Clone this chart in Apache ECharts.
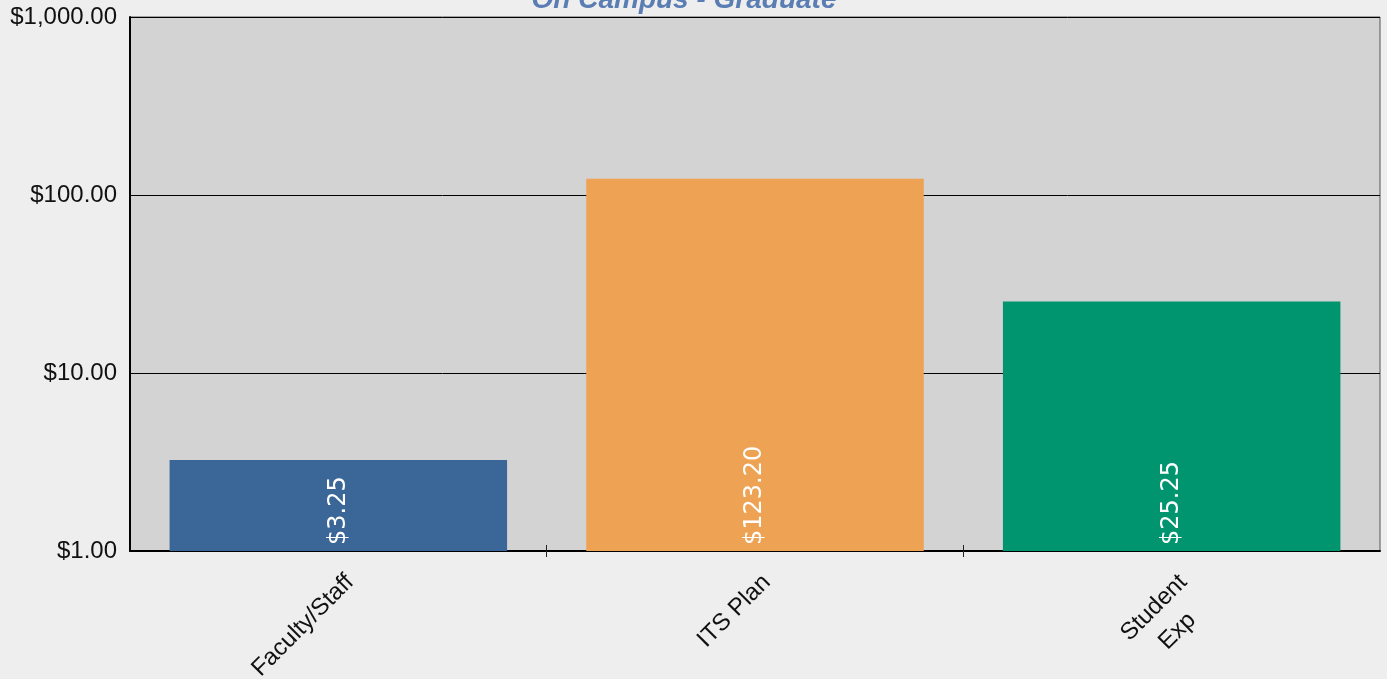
<!DOCTYPE html>
<html>
<head>
<meta charset="utf-8">
<script src="https://cdn.jsdelivr.net/npm/echarts@6/dist/echarts.min.js"></script>
<style>
    html, body { margin: 0; padding: 0; background: #eeeeee; }
    #chart { width: 1387px; height: 679px; }
</style>
</head>
<body>
<div id="chart"></div>
<script>
    var titleText = 'On Campus - Graduate';
    var categories = ['Faculty/Staff', 'ITS Plan', 'Student\nExp'];
    var values = [3.25, 123.20, 25.25];
    var barColors = ['#3b6698', '#eea253', '#00956f'];

    function money(v) {
        return '$' + Number(v).toLocaleString('en-US', {minimumFractionDigits: 2, maximumFractionDigits: 2});
    }

    var chart = echarts.init(document.getElementById('chart'));
    var font = 'Liberation Sans, Arial, sans-serif';
    var plotGrid = {left: 130, right: 7, top: 17, bottom: 128, containLabel: false, outerBoundsMode: 'none'};

    // ticks between the categories, drawn across the axis line (half inside, half outside)
    function tickAxis(gridIndex, inside) {
        return {
            type: 'value',
            gridIndex: gridIndex,
            min: 0,
            max: categories.length,
            interval: 1,
            axisLine: {show: false},
            splitLine: {show: false},
            axisLabel: {show: false},
            axisTick: {
                show: true,
                inside: inside,
                length: 6,
                customValues: categories.slice(1).map(function (c, i) { return i + 1; }),
                lineStyle: {color: '#222'}
            }
        };
    }

    var option = {
        animation: false,
        backgroundColor: '#eeeeee',
        title: {
            text: titleText,
            left: 679,
            textAlign: 'center',
            top: -19,
            textStyle: {fontSize: 28, fontWeight: 'bold', fontStyle: 'italic', color: '#5a7db3', fontFamily: font}
        },
        grid: [
            Object.assign({show: true, backgroundColor: '#d3d3d3', borderColor: '#555', borderWidth: 1}, plotGrid),
            Object.assign({}, plotGrid),
            Object.assign({}, plotGrid)
        ],
        xAxis: [
            {
                type: 'category',
                data: categories,
                gridIndex: 0,
                axisLine: {lineStyle: {color: '#000', width: 2}},
                axisTick: {show: false},
                axisLabel: {
                    rotate: 45,
                    align: 'right',
                    verticalAlign: 'top',
                    margin: 6,
                    padding: [7, 7, 0, 0],
                    color: '#111',
                    fontSize: 24,
                    fontFamily: font,
                    formatter: function (v) {
                        return v.split('\n').map(function (s) { return '{c|' + s + '}'; }).join('\n');
                    },
                    rich: {c: {align: 'center', fontSize: 24, lineHeight: 33, fontFamily: font, color: '#111'}}
                }
            },
            tickAxis(1, false),
            tickAxis(2, true)
        ],
        yAxis: [
            {
                type: 'log',
                logBase: 10,
                min: 1,
                max: 1000,
                gridIndex: 0,
                axisLine: {show: true, lineStyle: {color: '#000', width: 2}},
                axisTick: {show: false},
                splitLine: {lineStyle: {color: '#000', width: 1}},
                axisLabel: {margin: 13, color: '#111', fontSize: 24, fontFamily: font, formatter: money}
            },
            {type: 'value', gridIndex: 1, show: false},
            {type: 'value', gridIndex: 2, show: false}
        ],
        series: [{
            type: 'bar',
            xAxisIndex: 0,
            yAxisIndex: 0,
            barCategoryGap: '19%',
            data: values.map(function (v, i) {
                return {value: v, itemStyle: {color: barColors[i]}};
            }),
            label: {
                show: true,
                position: 'insideBottom',
                rotate: 90,
                align: 'left',
                verticalAlign: 'middle',
                distance: 6,
                color: '#fff',
                fontSize: 24,
                fontFamily: 'DejaVu Sans',
                formatter: function (p) { return money(p.value); }
            }
        }]
    };
    chart.setOption(option);
</script>
</body>
</html>
